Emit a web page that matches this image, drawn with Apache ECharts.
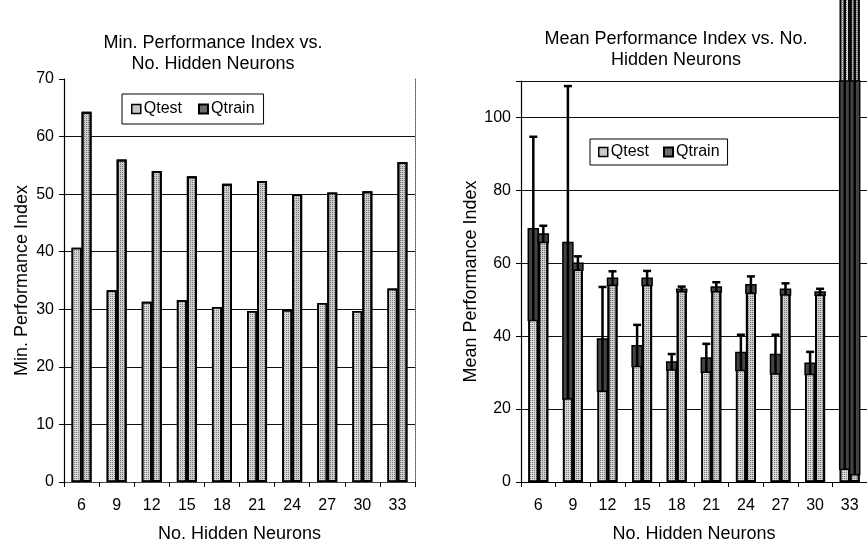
<!DOCTYPE html>
<html><head><meta charset="utf-8">
<script src="https://cdn.jsdelivr.net/npm/echarts@6/dist/echarts.min.js"></script>
<style>html,body{margin:0;padding:0;background:#fff}#c{width:867px;height:548px}</style>
</head><body><div id="c"></div>
<script>
// ---- data ----
const categories = ['6', '9', '12', '15', '18', '21', '24', '27', '30', '33'];
const minQtest  = [40.7, 33.3, 31.3, 31.6, 30.4, 29.7, 29.9, 31.1, 29.7, 33.6];
const minQtrain = [64.3, 56.0, 54.0, 53.1, 51.8, 52.3, 50.0, 50.3, 50.5, 55.6];
const meanQtest  = [69.5, 65.7, 39.2, 37.4, 32.9, 34.0, 35.5, 35.0, 32.6, 150];
const sdQtest    = [25.2, 42.9, 14.3, 5.7, 2.2, 3.9, 4.9, 5.4, 3.1, 146.5];
const meanQtrain = [68.0, 60.0, 55.9, 55.9, 52.9, 53.5, 54.1, 52.9, 52.1, 140];
const sdQtrain   = [2.3, 1.9, 1.9, 2.0, 0.7, 1.3, 2.3, 1.6, 0.9, 138];
const leftTicks = {min: 0, max: 70, interval: 10};
const rightTicks = {min: 0, max: 110, interval: 20};

// ---- style ----
const FONT = '"Liberation Sans", Arial, Helvetica, sans-serif';
const INK = '#000';
const BW = 10;
const stipple = {symbol: 'rect', symbolSize: 1, dashArrayX: [1, 1], dashArrayY: [1, 1],
                 color: 'rgba(0,0,0,0.42)', rotation: 0};
const testStyle = {color: '#d6d6d6', borderColor: '#000', borderWidth: 1.6, decal: stipple};
const trainStyle = {color: '#cccccc', borderColor: '#000', borderWidth: 1.9, decal: stipple};

const chart = echarts.init(document.getElementById('c'));

function errRender(sign) {
  return function (params, api) {
    const i = api.value(0), mean = api.value(1), sd = api.value(2);
    const c = api.coord([i, mean]);
    const lo = api.coord([i, mean - sd]);
    const hi = api.coord([i, mean + sd]);
    const x = c[0] + sign * BW / 2;
    const top = Math.max(c[1], params.coordSys.y);
    return {
      type: 'group',
      children: [
        {type: 'rect', shape: {x: x - BW / 2, y: top, width: BW, height: Math.max(0, lo[1] - top)},
         style: {fill: '#444', stroke: '#000', lineWidth: 1.5}},
        {type: 'line', shape: {x1: x, y1: lo[1], x2: x, y2: hi[1]}, style: {stroke: '#000', lineWidth: 2.5}},
        {type: 'line', shape: {x1: x - 4, y1: hi[1], x2: x + 4, y2: hi[1]}, style: {stroke: '#000', lineWidth: 2.5}}
      ]
    };
  };
}

function catAxis(gi, name) {
  return {
    gridIndex: gi, type: 'category', data: categories, position: 'bottom',
    axisLine: {lineStyle: {color: '#000', width: 1.2}},
    axisTick: {show: true, length: 5, lineStyle: {color: '#000'}},
    axisLabel: {fontSize: 16, color: INK, margin: 16, fontFamily: FONT},
    name: name, nameLocation: 'middle', nameGap: 43,
    nameTextStyle: {fontSize: 18, color: INK, fontFamily: FONT}
  };
}
function valAxis(gi, t, name, showMax) {
  return {
    gridIndex: gi, type: 'value', min: t.min, max: t.max, interval: t.interval,
    axisLine: {show: true, lineStyle: {color: '#000', width: 1.2}},
    axisTick: {show: true, length: 5, lineStyle: {color: '#000'}},
    axisLabel: {fontSize: 16, color: INK, margin: 10, fontFamily: FONT,
      formatter: v => (v % t.interval === 0 ? String(v) : '')},
    splitLine: {show: true, showMaxLine: showMax, lineStyle: {color: '#111', width: 1.2}},
    name: name, nameLocation: 'middle', nameGap: 33, nameRotate: 90,
    nameTextStyle: {fontSize: 18, color: INK, fontFamily: FONT}
  };
}
function legend(left, top, pad, gap) {
  return {
    left: left, top: top, orient: 'horizontal',
    padding: pad, itemGap: gap, itemWidth: 9, itemHeight: 9,
    borderColor: '#000', borderWidth: 1, backgroundColor: '#fff',
    textStyle: {fontSize: 16, color: INK, fontFamily: FONT, padding: [0, 0, 0, -2]},
    data: [
      {name: 'Qtest', icon: 'rect', itemStyle: {color: '#c8c8c8', borderColor: '#000', borderWidth: 1.5, decal: 'none'}},
      {name: 'Qtrain', icon: 'rect', itemStyle: {color: '#6e6e6e', borderColor: '#000', borderWidth: 2, decal: 'none'}}
    ],
    selectedMode: false
  };
}

const option = {
  backgroundColor: '#fff',
  animation: false,
  textStyle: {fontFamily: FONT},
  title: [
    {text: 'Min. Performance Index vs.\nNo. Hidden Neurons', left: 208, top: 28, textAlign: 'center',
     textStyle: {fontSize: 18, fontWeight: 'normal', color: INK, fontFamily: FONT, lineHeight: 21}},
    {text: 'Mean Performance Index vs. No.\nHidden Neurons', left: 671, top: 24, textAlign: 'center',
     textStyle: {fontSize: 18, fontWeight: 'normal', color: INK, fontFamily: FONT, lineHeight: 21}}
  ],
  legend: [legend(122, 94, [7, 9, 7, 9], 16), legend(590, 139, [5, 8, 5, 8], 14)],
  grid: [
    {left: 64, top: 79, width: 351, height: 408, containLabel: false},
    {left: 521, top: 81, width: 353, height: 406, containLabel: false}
  ],
  xAxis: [
    catAxis(0, 'No. Hidden Neurons'),
    {gridIndex: 0, type: 'category', data: categories, position: 'top',
     axisLine: {lineStyle: {color: '#555', type: 'dotted'}}, axisTick: {show: false}, axisLabel: {show: false}},
    catAxis(1, 'No. Hidden Neurons')
  ],
  yAxis: [
    valAxis(0, leftTicks, 'Min. Performance Index', false),
    {gridIndex: 0, type: 'value', position: 'right', min: leftTicks.min, max: leftTicks.max,
     axisLine: {show: true, lineStyle: {color: '#555', type: 'dotted'}}, axisTick: {show: false},
     axisLabel: {show: false}, splitLine: {show: false}},
    valAxis(1, rightTicks, 'Mean Performance Index', true)
  ],
  series: [
    {name: 'Qtest', type: 'bar', xAxisIndex: 0, yAxisIndex: 0, data: minQtest,
     barWidth: BW, barGap: '0%', itemStyle: testStyle},
    {name: 'Qtrain', type: 'bar', xAxisIndex: 0, yAxisIndex: 0, data: minQtrain,
     barWidth: BW, barGap: '0%', itemStyle: trainStyle},
    {name: 'Qtest', type: 'bar', xAxisIndex: 2, yAxisIndex: 2, data: meanQtest,
     barWidth: BW, barGap: '0%', clip: false, itemStyle: testStyle},
    {name: 'Qtrain', type: 'bar', xAxisIndex: 2, yAxisIndex: 2, data: meanQtrain,
     barWidth: BW, barGap: '0%', clip: false, itemStyle: trainStyle},
    {name: 'QtestErr', type: 'custom', xAxisIndex: 2, yAxisIndex: 2, z: 5,
     renderItem: errRender(-1), data: meanQtest.map((m, i) => [i, m, sdQtest[i]])},
    {name: 'QtrainErr', type: 'custom', xAxisIndex: 2, yAxisIndex: 2, z: 5,
     renderItem: errRender(1), data: meanQtrain.map((m, i) => [i, m, sdQtrain[i]])}
  ]
};
chart.setOption(option);
</script></body></html>
